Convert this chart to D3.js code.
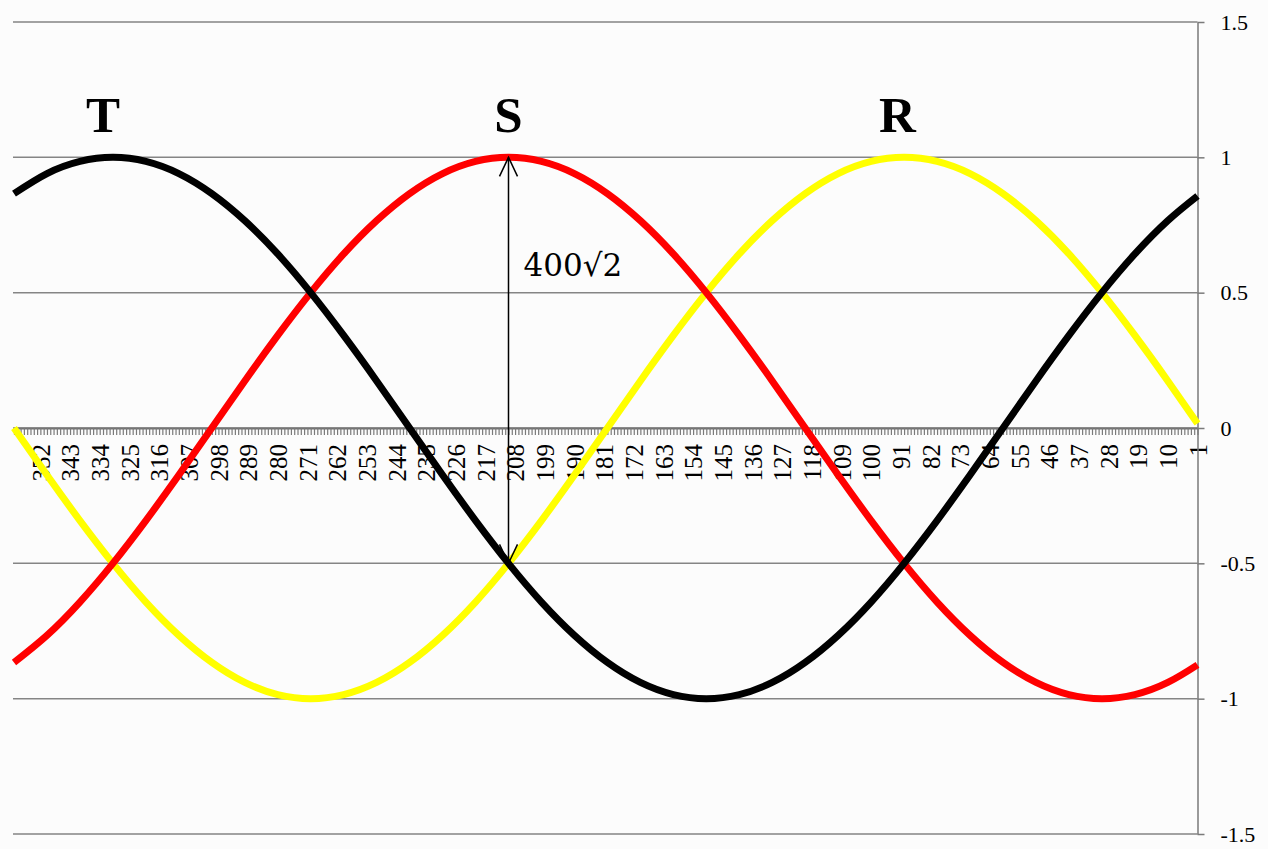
<!DOCTYPE html>
<html>
<head>
<meta charset="utf-8">
<script src="https://cdn.jsdelivr.net/npm/d3@7/dist/d3.min.js"></script>
<style>
  html, body { margin: 0; padding: 0; background: #fcfcfc; }
  svg { display: block; }
</style>
</head>
<body>
<script>
// Phase angle categories (degrees) at which the curves are sampled
const sampleCategories = [1, 10, 20, 30, 40, 50, 60, 70, 80, 90, 100, 110, 120, 130, 140, 150, 160, 170, 180,
  190, 200, 210, 220, 230, 240, 250, 260, 270, 280, 290, 300, 310, 320, 330, 340, 350, 360];

// Phase R (yellow)
const seriesR = [0.017, 0.174, 0.342, 0.5, 0.643, 0.766, 0.866, 0.94, 0.985, 1, 0.985, 0.94, 0.866, 0.766, 0.643, 0.5, 0.342, 0.174, 0,
  -0.174, -0.342, -0.5, -0.643, -0.766, -0.866, -0.94, -0.985, -1, -0.985, -0.94, -0.866, -0.766, -0.643, -0.5, -0.342, -0.174, 0];
// Phase S (red)
const seriesS = [-0.875, -0.94, -0.985, -1, -0.985, -0.94, -0.866, -0.766, -0.643, -0.5, -0.342, -0.174, 0, 0.174, 0.342, 0.5, 0.643, 0.766, 0.866,
  0.94, 0.985, 1, 0.985, 0.94, 0.866, 0.766, 0.643, 0.5, 0.342, 0.174, 0, -0.174, -0.342, -0.5, -0.643, -0.766, -0.866];
// Phase T (black)
const seriesT = [0.857, 0.766, 0.643, 0.5, 0.342, 0.174, 0, -0.174, -0.342, -0.5, -0.643, -0.766, -0.866, -0.94, -0.985, -1, -0.985, -0.94, -0.866,
  -0.766, -0.643, -0.5, -0.342, -0.174, 0, 0.174, 0.342, 0.5, 0.643, 0.766, 0.866, 0.94, 0.985, 1, 0.985, 0.94, 0.866];

const seriesNames = ["R", "S", "T"];
const seriesColors = ["#ffff00", "#ff0000", "#000000"];
// categories over which the phase letters sit
const letterCategories = [92, 210, 333];

// x-axis tick labels (one every 9 categories)
const xTickLabels = [1, 10, 19, 28, 37, 46, 55, 64, 73, 82, 91, 100, 109, 118, 127, 136, 145, 154, 163, 172,
  181, 190, 199, 208, 217, 226, 235, 244, 253, 262, 271, 280, 289, 298, 307, 316, 325, 334, 343, 352];
// y-axis ticks
const yTicks = [1.5, 1, 0.5, 0, -0.5, -1, -1.5];

// amplitude annotation: from the peak of S down to the R/T crossing
const arrowCategory = 210;
const arrowFrom = 1;
const arrowTo = -0.5;
const arrowText = "400√2";

const W = 1268, H = 849;
const svg = d3.select("body").append("svg").attr("width", W).attr("height", H);
svg.append("rect").attr("width", W).attr("height", H).attr("fill", "#fcfcfc");

const x = d3.scaleLinear().domain([360, 1]).range([14, 1197.5]);
const y = d3.scaleLinear().domain([-1.5, 1.5]).range([834, 22]);

// horizontal gridlines
svg.append("g").selectAll("line").data(yTicks).join("line")
  .attr("x1", 13).attr("x2", x(1))
  .attr("y1", d => y(d)).attr("y2", d => y(d))
  .attr("stroke", "#858585").attr("stroke-width", 1.5);

// x axis at y = 0 with a tick for every category
const allCategories = d3.range(1, 361);
const xAxis = d3.axisBottom(x)
  .tickValues(allCategories)
  .tickSize(7)
  .tickSizeOuter(0)
  .tickFormat(d => xTickLabels.includes(d) ? String(d) : "");
const gx = svg.append("g").attr("transform", `translate(0,${y(0)})`).call(xAxis);
gx.select(".domain").attr("stroke", "#737373").attr("stroke-width", 2);
gx.selectAll(".tick line").attr("stroke", "#7a7a7a").attr("stroke-width", 1.2);
gx.selectAll(".tick text")
  .attr("font-family", "'Liberation Serif', 'Times New Roman', serif")
  .attr("font-size", 25)
  .attr("fill", "#000")
  .attr("text-anchor", "end")
  .attr("transform", "rotate(-90)")
  .attr("x", -16)
  .attr("y", 0)
  .attr("dy", "0.35em");

// y axis on the right
const yAxis = d3.axisRight(y)
  .tickValues(yTicks)
  .tickSize(7)
  .tickSizeOuter(0)
  .tickPadding(16)
  .tickFormat(d => String(d));
const gy = svg.append("g").attr("transform", `translate(${x(1)},0)`).call(yAxis);
gy.select(".domain").attr("stroke", "#7a7a7a").attr("stroke-width", 1.5);
gy.selectAll(".tick line").attr("stroke", "#7a7a7a").attr("stroke-width", 1.5);
gy.selectAll(".tick text")
  .attr("font-family", "'Liberation Serif', 'Times New Roman', serif")
  .attr("font-size", 22)
  .attr("fill", "#000");

// the three phase curves
const line = d3.line()
  .x((d, i) => x(sampleCategories[i]))
  .y(d => y(d))
  .curve(d3.curveNatural);

const allSeries = [seriesR, seriesS, seriesT];
svg.append("g").selectAll("path").data(allSeries).join("path")
  .attr("d", d => line(d))
  .attr("fill", "none")
  .attr("stroke", (d, i) => seriesColors[i])
  .attr("stroke-width", 7)
  .attr("stroke-linejoin", "round");

// phase letters above each peak
svg.append("g").selectAll("text").data(seriesNames).join("text")
  .attr("x", (d, i) => x(letterCategories[i]))
  .attr("y", y(1) - 25)
  .attr("text-anchor", "middle")
  .attr("font-family", "'Liberation Serif', 'Times New Roman', serif")
  .attr("font-weight", "bold")
  .attr("font-size", 51)
  .attr("fill", "#000")
  .text(d => d);

// amplitude arrow with open heads on both ends
const ax = x(arrowCategory);
const ay1 = y(arrowFrom), ay2 = y(arrowTo);
const ann = svg.append("g").attr("stroke", "#000").attr("stroke-width", 1.5).attr("fill", "none");
ann.append("line").attr("x1", ax).attr("x2", ax).attr("y1", ay1).attr("y2", ay2);
ann.append("path").attr("d", `M${ax - 9},${ay1 + 19}L${ax},${ay1}L${ax + 9},${ay1 + 19}`);
ann.append("path").attr("d", `M${ax - 9},${ay2 - 19}L${ax},${ay2}L${ax + 9},${ay2 - 19}`);

svg.append("text")
  .attr("x", ax + 15)
  .attr("y", y(0.56))
  .attr("font-family", "'DejaVu Serif', serif")
  .attr("font-size", 31)
  .attr("fill", "#000")
  .text(arrowText);
</script>
</body>
</html>
